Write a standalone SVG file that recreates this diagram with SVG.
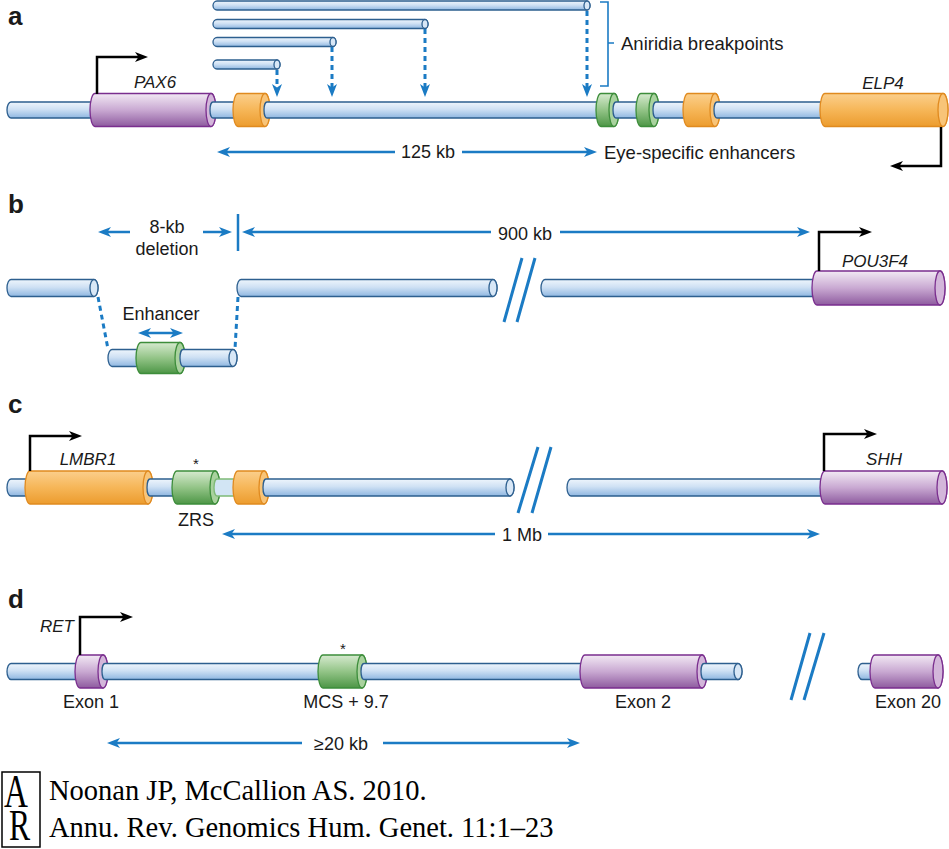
<svg xmlns="http://www.w3.org/2000/svg" width="949" height="849" viewBox="0 0 949 849">
<defs>
<linearGradient id="gRod" x1="0" y1="0" x2="0" y2="1"><stop offset="0" stop-color="#eef5fc"/><stop offset="0.45" stop-color="#cfe1f4"/><stop offset="1" stop-color="#8fb7e1"/></linearGradient>
<linearGradient id="gPur" x1="0" y1="0" x2="0" y2="1"><stop offset="0" stop-color="#f2e9f4"/><stop offset="0.5" stop-color="#c9a9d2"/><stop offset="1" stop-color="#8e5b9f"/></linearGradient>
<linearGradient id="gOra" x1="0" y1="0" x2="0" y2="1"><stop offset="0" stop-color="#fbcf8c"/><stop offset="0.5" stop-color="#f6b658"/><stop offset="1" stop-color="#ec9c2e"/></linearGradient>
<linearGradient id="gGrn" x1="0" y1="0" x2="0" y2="1"><stop offset="0" stop-color="#d6eacf"/><stop offset="0.5" stop-color="#93c487"/><stop offset="1" stop-color="#4d9646"/></linearGradient>
<marker id="ab" viewBox="0 0 13 10" refX="7" refY="5" markerWidth="13" markerHeight="10" orient="auto-start-reverse" markerUnits="userSpaceOnUse"><path d="M0,0 L13,5 L0,10 L3.5,5 Z" fill="#1b7bc4"/></marker>
<marker id="ak" viewBox="0 0 13 10" refX="7" refY="5" markerWidth="13" markerHeight="10" orient="auto-start-reverse" markerUnits="userSpaceOnUse"><path d="M0,0 L13,5 L0,10 L3.5,5 Z" fill="#000"/></marker>
</defs>
<style>
.rod{fill:url(#gRod);stroke:#2d5f8f;stroke-width:1.3}
.rodf{fill:#d8e7f6;stroke:#2d5f8f;stroke-width:1.3}
.pur{fill:url(#gPur);stroke:#7a2e8e;stroke-width:1.3}
.purf{fill:#d3b6da;stroke:#7a2e8e;stroke-width:1.3}
.ora{fill:url(#gOra);stroke:#e08a1f;stroke-width:1.3}
.oraf{fill:#f8c478;stroke:#e08a1f;stroke-width:1.3}
.grn{fill:url(#gGrn);stroke:#3d8d3b;stroke-width:1.3}
.grnf{fill:#a9d29e;stroke:#3d8d3b;stroke-width:1.3}
.lrod{fill:#d2e5f4;stroke:#7fba77;stroke-width:1.3}
.bl{fill:none;stroke:#1b7bc4;stroke-width:2.5}
.bd{fill:none;stroke:#1b7bc4;stroke-width:3;stroke-dasharray:5 4}
.bk{fill:none;stroke:#000;stroke-width:2.5}
.sl{fill:none;stroke:#1b7bc4;stroke-width:3}
text{font-family:"Liberation Sans",Arial,sans-serif;fill:#1a1a1a}
.t{font-size:18.5px}
.tm{font-size:18px;text-anchor:middle}
.g{font-size:17px;font-style:italic;text-anchor:middle}
.p{font-size:26px;font-weight:bold}
.st{font-size:15px;text-anchor:middle}
.c{font-family:"Liberation Serif","Times New Roman",serif;font-size:28.5px;fill:#000}
</style>

<g id="panel-a">
<text class="p" x="8" y="25">a</text>
<g id="a-fragments">
<path class="rod" d="M217,1 H587 A3,4.5 0 0 1 587,10 H217 A4,4.5 0 0 1 217,1 Z"/><ellipse class="rodf" cx="587" cy="5.5" rx="3" ry="4.5"/>
<path class="rod" d="M217,19.5 H425 A3,4.5 0 0 1 425,28.5 H217 A4,4.5 0 0 1 217,19.5 Z"/><ellipse class="rodf" cx="425" cy="24" rx="3" ry="4.5"/>
<path class="rod" d="M217,37.5 H333 A3,4.5 0 0 1 333,46.5 H217 A4,4.5 0 0 1 217,37.5 Z"/><ellipse class="rodf" cx="333" cy="42" rx="3" ry="4.5"/>
<path class="rod" d="M217,60 H277 A3,4.5 0 0 1 277,69 H217 A4,4.5 0 0 1 217,60 Z"/><ellipse class="rodf" cx="277" cy="64.5" rx="3" ry="4.5"/>
</g>
<g id="a-rod">
<path class="rod" d="M11,102 H95 V118 H11 A4,8 0 0 1 11,102 Z"/>
</g>
<g id="PAX6"><path class="pur" d="M95,93.5 H211 A5,16.5 0 0 1 211,126.5 H95 A5,16.5 0 0 1 95,93.5 Z"/><ellipse class="purf" cx="211" cy="110" rx="5" ry="16.5"/><text class="g" x="155" y="88">PAX6</text></g>
<path class="rod" d="M213,102 H240 V118 H213 A3,8 0 0 1 213,102 Z"/>
<g id="a-orange1"><path class="ora" d="M238,93.5 H265 A5,16.5 0 0 1 265,126.5 H238 A5,16.5 0 0 1 238,93.5 Z"/><ellipse class="oraf" cx="265" cy="110" rx="5" ry="16.5"/></g>
<path class="rod" d="M267,102 H603 V118 H267 A3,8 0 0 1 267,102 Z"/>
<g id="a-green1"><path class="grn" d="M601,93.5 H614 A5,16.5 0 0 1 614,126.5 H601 A5,16.5 0 0 1 601,93.5 Z"/><ellipse class="grnf" cx="614" cy="110" rx="5" ry="16.5"/></g>
<path class="rod" d="M616,102 H643 V118 H616 A3,8 0 0 1 616,102 Z"/>
<g id="a-green2"><path class="grn" d="M641,93.5 H654 A5,16.5 0 0 1 654,126.5 H641 A5,16.5 0 0 1 641,93.5 Z"/><ellipse class="grnf" cx="654" cy="110" rx="5" ry="16.5"/></g>
<path class="rod" d="M656,102 H690 V118 H656 A3,8 0 0 1 656,102 Z"/>
<g id="a-orange2"><path class="ora" d="M688,93.5 H715 A5,16.5 0 0 1 715,126.5 H688 A5,16.5 0 0 1 688,93.5 Z"/><ellipse class="oraf" cx="715" cy="110" rx="5" ry="16.5"/></g>
<path class="rod" d="M717,102 H827 V118 H717 A3,8 0 0 1 717,102 Z"/>
<g id="ELP4"><path class="ora" d="M825,93.5 H943 A5,16.5 0 0 1 943,126.5 H825 A5,16.5 0 0 1 825,93.5 Z"/><ellipse class="oraf" cx="943" cy="110" rx="5" ry="16.5"/><text class="g" x="883" y="89">ELP4</text></g>
<text class="t" x="621" y="50">Aniridia breakpoints</text>
<text class="tm" x="428" y="158">125 kb</text>
<text class="t" x="604" y="159">Eye-specific enhancers</text>
</g>

<g id="panel-b">
<text class="p" x="8" y="213">b</text>
<path class="rod" d="M11,279.5 H94 A4,8.5 0 0 1 94,296.5 H11 A4,8.5 0 0 1 11,279.5 Z"/><ellipse class="rodf" cx="94" cy="288" rx="4" ry="8.5"/>
<path class="rod" d="M241,279.5 H493 A4,8.5 0 0 1 493,296.5 H241 A4,8.5 0 0 1 241,279.5 Z"/><ellipse class="rodf" cx="493" cy="288" rx="4" ry="8.5"/>
<path class="rod" d="M545,279.5 H819 V296.5 H545 A4,8.5 0 0 1 545,279.5 Z"/>
<g id="POU3F4"><path class="pur" d="M817,271 H940 A5,17 0 0 1 940,305 H817 A5,17 0 0 1 817,271 Z"/><ellipse class="purf" cx="940" cy="288" rx="5" ry="17"/><text class="g" x="875" y="267">POU3F4</text></g>
<g id="b-lower">
<path class="rod" d="M112,349.5 H142 V366.5 H112 A4,8.5 0 0 1 112,349.5 Z"/>
<g id="Enhancer"><path class="grn" d="M141,342.5 H180 A5,15.5 0 0 1 180,373.5 H141 A5,15.5 0 0 1 141,342.5 Z"/><ellipse class="grnf" cx="180" cy="358" rx="5" ry="15.5"/></g>
<path class="rod" d="M183,349.5 H233 A4,8.5 0 0 1 233,366.5 H183 A3,8.5 0 0 1 183,349.5 Z"/><ellipse class="rodf" cx="233" cy="358" rx="4" ry="8.5"/>
</g>
<text class="tm" x="167" y="233">8-kb</text>
<text class="tm" x="167" y="255">deletion</text>
<text class="tm" x="525" y="240">900 kb</text>
<text class="tm" x="161" y="320">Enhancer</text>
</g>

<g id="panel-c">
<text class="p" x="8" y="413">c</text>
<path class="rod" d="M11,479 H32 V496 H11 A4,8.5 0 0 1 11,479 Z"/>
<g id="LMBR1"><path class="ora" d="M30,471 H148 A5,16.5 0 0 1 148,504 H30 A5,16.5 0 0 1 30,471 Z"/><ellipse class="oraf" cx="148" cy="487.5" rx="5" ry="16.5"/><text class="g" x="88" y="465">LMBR1</text></g>
<path class="rod" d="M150,479 H179 V496 H150 A3,8.5 0 0 1 150,479 Z"/>
<g id="ZRS"><path class="grn" d="M177,471 H215 A5,16.5 0 0 1 215,504 H177 A5,16.5 0 0 1 177,471 Z"/><ellipse class="grnf" cx="215" cy="487.5" rx="5" ry="16.5"/><text class="st" x="196" y="469">*</text><text class="tm" x="196" y="526">ZRS</text></g>
<path class="lrod" d="M217,479 H240 V496 H217 A3,8.5 0 0 1 217,479 Z"/>
<g id="c-orange"><path class="ora" d="M238,471 H264 A5,16.5 0 0 1 264,504 H238 A5,16.5 0 0 1 238,471 Z"/><ellipse class="oraf" cx="264" cy="487.5" rx="5" ry="16.5"/></g>
<path class="rod" d="M266,479 H510 A4,8.5 0 0 1 510,496 H266 A3,8.5 0 0 1 266,479 Z"/><ellipse class="rodf" cx="510" cy="487.5" rx="4" ry="8.5"/>
<path class="rod" d="M571,479 H827 V496 H571 A4,8.5 0 0 1 571,479 Z"/>
<g id="SHH"><path class="pur" d="M825,471 H942 A5,16.5 0 0 1 942,504 H825 A5,16.5 0 0 1 825,471 Z"/><ellipse class="purf" cx="942" cy="487.5" rx="5" ry="16.5"/><text class="g" x="884" y="465">SHH</text></g>
<text class="tm" x="522" y="541">1 Mb</text>
</g>

<g id="panel-d">
<text class="p" x="8" y="608">d</text>
<path class="rod" d="M11,663.5 H82 V679.5 H11 A4,8 0 0 1 11,663.5 Z"/>
<g id="Exon1"><path class="pur" d="M80,655 H103 A5,16.5 0 0 1 103,688 H80 A5,16.5 0 0 1 80,655 Z"/><ellipse class="purf" cx="103" cy="671.5" rx="5" ry="16.5"/><text class="g" x="57" y="632">RET</text><text class="tm" x="91" y="708">Exon 1</text></g>
<path class="rod" d="M105,663.5 H325 V679.5 H105 A3,8 0 0 1 105,663.5 Z"/>
<g id="MCS"><path class="grn" d="M323,655 H362 A5,16.5 0 0 1 362,688 H323 A5,16.5 0 0 1 323,655 Z"/><ellipse class="grnf" cx="362" cy="671.5" rx="5" ry="16.5"/><text class="st" x="343" y="654">*</text><text class="tm" x="346" y="708">MCS + 9.7</text></g>
<path class="rod" d="M364,663.5 H587 V679.5 H364 A3,8 0 0 1 364,663.5 Z"/>
<g id="Exon2"><path class="pur" d="M585,655 H702 A5,16.5 0 0 1 702,688 H585 A5,16.5 0 0 1 585,655 Z"/><ellipse class="purf" cx="702" cy="671.5" rx="5" ry="16.5"/><text class="tm" x="643" y="708">Exon 2</text></g>
<path class="rod" d="M704,663.5 H738 A4,8 0 0 1 738,679.5 H704 A3,8 0 0 1 704,663.5 Z"/><ellipse class="rodf" cx="738" cy="671.5" rx="4" ry="8"/>
<path class="rod" d="M862,663.5 H877 V679.5 H862 A4,8 0 0 1 862,663.5 Z"/>
<g id="Exon20"><path class="pur" d="M875,655 H938 A5,16.5 0 0 1 938,688 H875 A5,16.5 0 0 1 875,655 Z"/><ellipse class="purf" cx="938" cy="671.5" rx="5" ry="16.5"/><text class="tm" x="908" y="708">Exon 20</text></g>
<text class="tm" x="341" y="750">≥20 kb</text>
</g>

<g id="connectors">
<path class="bd" d="M277,70 V91" marker-end="url(#ab)"/>
<path class="bd" d="M332,47 V91" marker-end="url(#ab)"/>
<path class="bd" d="M425,29 V91" marker-end="url(#ab)"/>
<path class="bd" d="M587,11 V91" marker-end="url(#ab)"/>
<path fill="none" stroke="#1b7bc4" stroke-width="1.6" d="M600,2 H608 V86 H600 M608,43 H614"/>
<path class="bl" d="M395,152 H223" marker-end="url(#ab)"/>
<path class="bl" d="M462,152 H591" marker-end="url(#ab)"/>
<path class="bk" d="M97,94 V57 H142" marker-end="url(#ak)"/>
<path class="bk" d="M941,127 V166 H896" marker-end="url(#ak)"/>
<path class="bl" d="M130,232 H104" marker-end="url(#ab)"/>
<path class="bl" d="M203,232 H226" marker-end="url(#ab)"/>
<path class="bl" d="M238,214 V251"/>
<path class="bl" d="M491,232 H248" marker-end="url(#ab)"/>
<path class="bl" d="M560,232 H804" marker-end="url(#ab)"/>
<path class="bk" d="M819,271 V232 H866" marker-end="url(#ak)"/>
<path class="bd" d="M98,297 L108,349" stroke-width="2.5"/>
<path class="bd" d="M238,297 L235,349" stroke-width="2.5"/>
<path class="bl" d="M144,333 H177" marker-start="url(#ab)" marker-end="url(#ab)"/>
<path class="sl" d="M504,322 L522,258 M517,322 L535,258"/>
<path class="bk" d="M30,471 V436 H76" marker-end="url(#ak)"/>
<path class="bk" d="M824,471 V434 H871" marker-end="url(#ak)"/>
<path class="sl" d="M518,513 L538,447 M532,513 L551,447"/>
<path class="bl" d="M495,534 H228" marker-end="url(#ab)"/>
<path class="bl" d="M548,534 H814" marker-end="url(#ab)"/>
<path class="bk" d="M80,655 V617 H127" marker-end="url(#ak)"/>
<path class="sl" d="M791,700 L810,633 M804,700 L824,633"/>
<path class="bl" d="M302,743 H113" marker-end="url(#ab)"/>
<path class="bl" d="M383,743 H574" marker-end="url(#ab)"/>
</g>

<g id="citation">
<rect x="2" y="772" width="38" height="75" fill="none" stroke="#000" stroke-width="1.5"/>
<text class="c" transform="scale(0.72,1)"><tspan x="5.6" y="807" style="font-size:46px">A</tspan><tspan x="12.5" y="840" style="font-size:44px">R</tspan></text>
<text class="c" x="49" y="800">Noonan JP, McCallion AS. 2010.</text>
<text class="c" x="49" y="837">Annu. Rev. Genomics Hum. Genet. 11:1–23</text>
</g>
</svg>
